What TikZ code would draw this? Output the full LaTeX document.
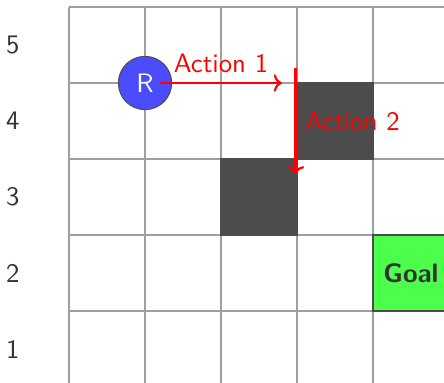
\documentclass[tikz,border=0pt]{standalone}
\usepackage{xcolor}
\usepackage{tikz}
\usetikzlibrary{arrows.meta, positioning}

\begin{document}
\begin{tikzpicture}[
  font=\sffamily,
  gridline/.style={draw=gray!75, line width=0.5pt},
  wall/.style={rectangle, draw=black!70, fill=black!70, minimum size=1cm, inner sep=0pt},
  goalcell/.style={rectangle, draw=black!70, fill=green!70, minimum size=1cm, inner sep=0pt, font=\sffamily\bfseries, text=black!80},
  robot/.style={circle, draw=black!70, fill=blue!70, minimum size=0.7cm, inner sep=0pt, text=white},
  rowlabel/.style={text=black!80},
  arrow/.style={-{To[length=3pt, width=6.5pt]}, thick, color=red},
  actlabel/.style={text=red}
]
\useasboundingbox (-0.908,0.053) rectangle (4.934,5.092);
\clip (-0.908,0.053) rectangle (4.934,5.092);

% Grid
\draw[gridline] (0,0) grid (5,5);

% Row labels
\foreach \r in {1,...,5}
  \node[rowlabel] (row\r) at (-0.74,\r-0.5) {\r};

% Obstacles
\node[wall] (wallA) at (3.5,3.5) {};
\node[wall] (wallB) at (2.5,2.5) {};

% Goal
\node[goalcell] (goal) at (4.5,1.5) {Goal};

% Robot
\node[robot] (robot) at (1,4) {R};

% Actions
\coordinate (actAstart) at (1.2,4);
\coordinate (actAend) at (2.8,4);
\coordinate (actBstart) at (2.98,4.2);
\coordinate (actBend) at (2.98,2.8);

\draw[arrow] (actAstart) -- node[above, actlabel]{Action 1} (actAend);
\draw[arrow] (actBstart) -- node[right, actlabel]{Action 2} (actBend);

\end{tikzpicture}
\end{document}
